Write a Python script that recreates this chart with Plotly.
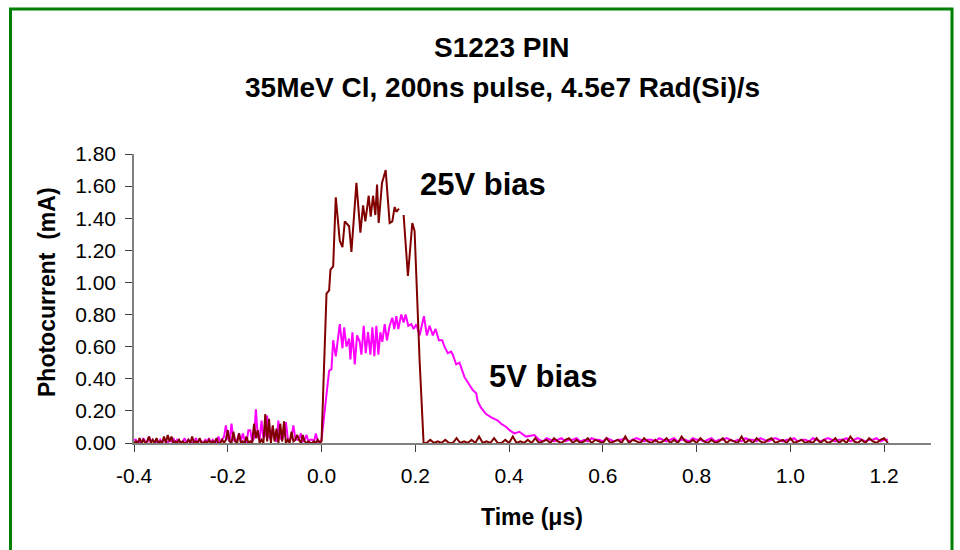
import numpy as np
import plotly.graph_objects as go

# ---------------- data ----------------
# pre-pulse noise (uniform sampling, start -0.400 us, step 0.004 us)
pre_t0, pre_dt = -0.400, 0.004
pre_5v = [0.02,0.02,0.00,0.01,0.00,0.03,0.01,0.00,0.04,0.01,0.02,0.00,0.01,0.00,0.02,0.00,0.03,0.01,0.00,0.02,
          0.01,0.03,0.00,0.02,0.01,0.00,0.01,0.03,0.00,0.02,0.01,0.00,0.01,0.03,0.00,0.02,0.01,0.00,0.02,0.01,
          0.03,0.00,0.02,0.01,0.00,0.04,0.01,0.02,0.04,0.11,0.03,0.01,0.12,0.02,0.01,0.02,0.06,0.01,0.06,0.02,
          0.00,0.08,0.08,0.01,0.03,0.21,0.04,0.02,0.14,0.03,0.05,0.17,0.04,0.02,0.10,0.02,0.01,0.14,0.03,0.02,
          0.05,0.13,0.03,0.01,0.04,0.11,0.03,0.02,0.02,0.06,0.01,0.02,0.05,0.01,0.02,0.02,0.01,0.06,0.01,0.01]
pre_25v = [0.00,0.01,0.00,0.03,0.00,0.02,0.00,0.01,0.04,0.00,0.02,0.00,0.03,0.00,0.01,0.00,0.04,0.00,0.05,0.01,
           0.04,0.00,0.01,0.00,0.02,0.00,0.01,0.00,0.00,0.02,0.00,0.04,0.00,0.01,0.00,0.03,0.00,0.00,0.01,0.00,
           0.02,0.00,0.01,0.00,0.03,0.00,0.00,0.02,0.00,0.02,0.08,0.01,0.00,0.07,0.01,0.00,0.06,0.00,0.01,0.00,
           0.04,0.00,0.01,0.00,0.12,0.03,0.08,0.00,0.02,0.00,0.18,0.01,0.15,0.00,0.11,0.01,0.09,0.00,0.12,0.01,
           0.135,0.00,0.02,0.00,0.07,0.01,0.02,0.05,0.02,0.00,0.05,0.01,0.00,0.01,0.00,0.00,0.01,0.00,0.02,0.00]

# pulse region, 25 V bias
pulse_t_25v = [0.000,0.0106,0.0162,0.0191,0.0248,0.0304,0.0389,0.0446,0.0496,0.0588,0.0638,0.0744,0.0829,
               0.0886,0.0935,0.1006,0.1049,0.1099,0.1148,0.1184,0.1219,0.1290,0.1368,0.1453,0.1510,0.1560,
               0.1595,0.1652,0.170,0.1751,0.1843,0.1936,0.1985,0.2091,0.2177]
pulse_i_25v = [0.01,0.93,0.95,1.08,1.10,1.53,1.26,1.22,1.38,1.35,1.19,1.62,1.31,
               1.48,1.38,1.54,1.41,1.54,1.42,1.61,1.37,1.62,1.70,1.37,1.38,1.47,
               1.44,1.46,None,1.42,1.04,1.37,1.32,0.52,0.00]

# pulse region, 5 V bias
pulse_t_5v = [0.000,0.0071,0.0162,0.0212,0.0248,0.0304,0.0389,0.0446,0.0482,0.0531,0.0588,0.0616,0.0659,
              0.0709,0.0758,0.0815,0.0850,0.0900,0.0943,0.0992,0.1042,0.1084,0.1127,0.1170,0.1212,0.1255,
              0.1297,0.1347,0.1396,0.1453,0.1510,0.1553,0.1595,0.1638,0.1701,0.1751,0.1794,0.1850,0.1914,
              0.1964,0.2021,0.2091,0.2184,0.2247,0.2304,0.2375,0.2432,0.2503,0.2574,0.2623,0.2694,0.2765,
              0.2800,0.2872,0.2943,0.3050,0.3155,0.3226,0.3300,0.3330,0.3400,0.3510,0.3620,0.3760,0.3830,
              0.3940,0.4010,0.4110,0.4220,0.4360,0.4540]
pulse_i_5v = [0.02,0.21,0.45,0.46,0.64,0.54,0.74,0.59,0.72,0.60,0.65,0.52,0.69,
              0.49,0.67,0.63,0.55,0.73,0.56,0.69,0.55,0.72,0.54,0.73,0.55,0.69,
              0.63,0.74,0.64,0.73,0.78,0.71,0.79,0.71,0.80,0.75,0.80,0.73,0.74,
              0.71,0.74,0.67,0.79,0.67,0.73,0.67,0.71,0.64,0.64,0.60,0.56,0.57,
              0.55,0.49,0.50,0.41,0.36,0.33,0.31,0.26,0.22,0.18,0.16,0.14,0.12,
              0.10,0.08,0.06,0.07,0.04,0.05]

# tail noise, 25 V bias (start 0.224 us, step 0.008 us)
tail_t0_25v, tail_dt = 0.224, 0.008
tail_25v = [0.00,0.02,0.00,0.01,0.00,0.02,0.00,0.00,0.03,0.00,0.01,0.00,0.02,0.00,0.04,0.00,0.01,0.00,0.03,0.00,
            0.00,0.02,0.00,0.04,0.00,0.01,0.00,0.02,0.00,0.03,0.00,0.01,0.02,0.00,0.03,0.01,0.00,0.02,0.03,0.00,
            0.02,0.00,0.01,0.03,0.00,0.02,0.01,0.00,0.03,0.00,0.01,0.02,0.00,0.04,0.00,0.02,0.01,0.00,0.03,0.01,
            0.00,0.02,0.00,0.01,0.03,0.00,0.02,0.00,0.04,0.01,0.00,0.02,0.00,0.03,0.01,0.00,0.02,0.00,0.01,0.03,
            0.00,0.02,0.01,0.00,0.04,0.00,0.02,0.00,0.03,0.01,0.00,0.02,0.03,0.00,0.01,0.02,0.00,0.03,0.00,0.01,
            0.02,0.00,0.01,0.00,0.03,0.00,0.02,0.00,0.01,0.03,0.00,0.02,0.00,0.04,0.01,0.00,0.02,0.00,0.03,0.01,
            0.00,0.02,0.03,0.00]

# tail noise, 5 V bias (start 0.464 us, step 0.008 us)
tail_t0_5v = 0.464
tail_5v = [0.02,0.01,0.03,0.02,0.01,0.02,0.03,0.01,0.02,0.02,0.03,0.01,0.02,0.01,0.03,0.02,0.02,0.01,0.03,0.02,
           0.01,0.02,0.02,0.03,0.01,0.02,0.03,0.02,0.01,0.02,0.02,0.01,0.03,0.02,0.01,0.02,0.03,0.01,0.02,0.02,
           0.01,0.03,0.02,0.02,0.01,0.02,0.03,0.01,0.02,0.02,0.03,0.02,0.01,0.02,0.01,0.03,0.02,0.02,0.01,0.03,
           0.02,0.01,0.02,0.03,0.02,0.01,0.02,0.02,0.03,0.01,0.02,0.02,0.01,0.03,0.02,0.01,0.02,0.03,0.02,0.01,
           0.02,0.02,0.03,0.01,0.02,0.03,0.02,0.01,0.02,0.02,0.03,0.01,0.02,0.02]

x_tick_vals = [-0.4, -0.2, 0.0, 0.2, 0.4, 0.6, 0.8, 1.0, 1.2]
x_tick_text = ["-0.4", "-0.2", "0.0", "0.2", "0.4", "0.6", "0.8", "1.0", "1.2"]
y_tick_vals = [0.0, 0.2, 0.4, 0.6, 0.8, 1.0, 1.2, 1.4, 1.6, 1.8]
y_tick_text = ["0.00", "0.20", "0.40", "0.60", "0.80", "1.00", "1.20", "1.40", "1.60", "1.80"]

# ---------------- assemble ----------------
t_pre = list(pre_t0 + pre_dt * np.arange(len(pre_5v)))
t_5v = t_pre + pulse_t_5v + list(tail_t0_5v + tail_dt * np.arange(len(tail_5v)))
i_5v = pre_5v + pulse_i_5v + tail_5v
t_25v = t_pre + pulse_t_25v + list(tail_t0_25v + tail_dt * np.arange(len(tail_25v)))
i_25v = pre_25v + pulse_i_25v + tail_25v

FONT = "Liberation Sans, Arial, sans-serif"

fig = go.Figure()
fig.add_trace(go.Scatter(x=t_5v, y=i_5v, mode="lines", name="5V bias",
                         line=dict(color="#FF00FF", width=2), connectgaps=False))
fig.add_trace(go.Scatter(x=t_25v, y=i_25v, mode="lines", name="25V bias",
                         line=dict(color="#800000", width=2), connectgaps=False))

L, R, T, B = 134, 29, 154, 107
W, H = 960, 550
pw, ph = W - L - R, H - T - B

def px(xp):
    return (xp - L) / pw

def py(yp):
    return (H - B - yp) / ph

fig.update_layout(
    width=W, height=H,
    margin=dict(l=L, r=R, t=T, b=B),
    paper_bgcolor="white", plot_bgcolor="white",
    showlegend=False,
    font=dict(family=FONT, color="black"),
    xaxis=dict(range=[-0.4, 1.3], tickvals=x_tick_vals, ticktext=x_tick_text,
               showgrid=False, zeroline=False, showline=True, linecolor="#808080", linewidth=2,
               ticks="outside", ticklen=7, tickcolor="#404040", tickwidth=1,
               tickfont=dict(size=21, family=FONT, color="black"), ticklabelstandoff=6),
    yaxis=dict(range=[0, 1.8], tickvals=y_tick_vals, ticktext=y_tick_text,
               showgrid=False, zeroline=False, showline=True, linecolor="#808080", linewidth=1.5,
               ticks="outside", ticklen=7, tickcolor="#404040", tickwidth=1,
               tickfont=dict(size=21, family=FONT, color="black"), ticklabelstandoff=5),
)

bold = dict(family=FONT, color="black")
ann = [
    dict(text="<b>S1223 PIN</b>", x=px(501), y=py(47), font=dict(size=28, **bold)),
    dict(text="<b>35MeV Cl, 200ns pulse, 4.5e7 Rad(Si)/s</b>", x=px(502), y=py(87), font=dict(size=28, **bold)),
    dict(text="<b>Photocurrent  (mA)</b>", x=px(47), y=py(292), textangle=-90, font=dict(size=23, **bold)),
    dict(text="<b>Time (μs)</b>", x=px(532), y=py(517), font=dict(size=23, **bold)),
]
for a in ann:
    a.update(xref="paper", yref="paper", showarrow=False, xanchor="center", yanchor="middle")
fig.update_layout(annotations=ann)
fig.add_annotation(text="<b>25V bias</b>", x=0.345, y=1.607, xref="x", yref="y", showarrow=False,
                   font=dict(size=31, **bold), xanchor="center", yanchor="middle")
fig.add_annotation(text="<b>5V bias</b>", x=0.474, y=0.417, xref="x", yref="y", showarrow=False,
                   font=dict(size=31, **bold), xanchor="center", yanchor="middle")

fig.add_shape(type="rect", xref="paper", yref="paper",
              x0=px(10.5), x1=px(952), y0=py(565), y1=py(9),
              line=dict(color="#008000", width=3), fillcolor="rgba(0,0,0,0)", layer="below")

fig.write_html("out.html")
